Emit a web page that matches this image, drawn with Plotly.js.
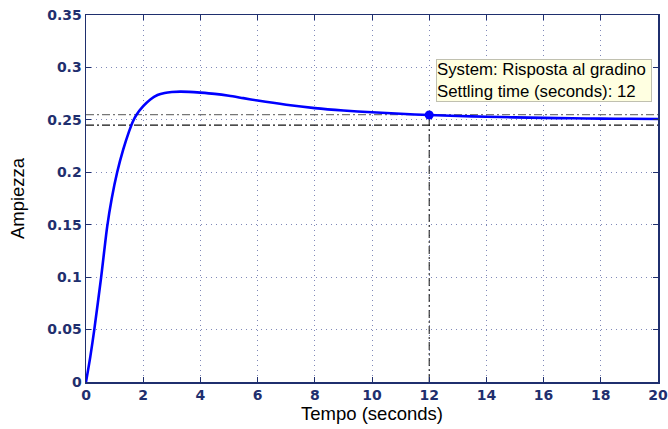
<!DOCTYPE html>
<html>
<head>
<meta charset="utf-8">
<script src="https://cdn.plot.ly/plotly-3.0.1.min.js"></script>
<style>
html,body{margin:0;padding:0;background:#fff;}
#chart{width:668px;height:429px;}
#chart .xtick text, #chart .ytick text { font-weight: 700 !important; }
</style>
</head>
<body>
<div id="chart"></div>
<script>
// Step response
const time = [0, 0.15, 0.29, 0.53, 0.74, 0.9, 1.09, 1.3, 1.5, 1.64, 1.75, 2.0, 2.25, 2.5, 2.75, 3.0, 3.3, 3.6, 4.0, 4.5, 5, 5.5, 6, 7, 8, 9, 10, 11, 12, 13, 14, 15, 16, 17, 18, 19, 20];
const amplitude = [0, 0.024, 0.05, 0.1, 0.148, 0.175, 0.2, 0.2215, 0.2385, 0.2485, 0.2542, 0.263, 0.2695, 0.2737, 0.2757, 0.2766, 0.2769, 0.2767, 0.2760, 0.2748, 0.2730, 0.2707, 0.2684, 0.2644, 0.2612, 0.2589, 0.2572, 0.2558, 0.2546, 0.2537, 0.2530, 0.2524, 0.2519, 0.2515, 0.2512, 0.2510, 0.2508];
const settleBounds = [0.255, 0.245];
const settleTime = 12;
const settleValue = 0.2546;
const timeRange = [0, 20];
const xTicks = [0, 2, 4, 6, 8, 10, 12, 14, 16, 18, 20];
const yTicks = [0, 0.05, 0.1, 0.15, 0.2, 0.25, 0.3, 0.35];
const yTickLabels = ['0', '0.05', '0.1', '0.15', '0.2', '0.25', '0.3', '0.35'];
const tipLines = ['System: Risposta al gradino', 'Settling time (seconds): 12'];

const navy = '#1f2f6e';
const fam = 'Liberation Sans, Arial, sans-serif';
const tickFam = 'DejaVu Sans, sans-serif';
const dashDot = '8px,3px,2px,3px';
const traces = [
  {x: timeRange, y: [settleBounds[0], settleBounds[0]], mode: 'lines', line: {color: '#777', width: 1.3, dash: dashDot}, hoverinfo: 'skip'},
  {x: timeRange, y: [settleBounds[1], settleBounds[1]], mode: 'lines', line: {color: '#111', width: 1.3, dash: dashDot}, hoverinfo: 'skip'},
  {x: [settleTime, settleTime], y: [0, settleValue], mode: 'lines', line: {color: '#111', width: 1, dash: dashDot}, hoverinfo: 'skip'},
  {x: time, y: amplitude, mode: 'lines', line: {color: '#0000ff', width: 2.6, shape: 'spline', smoothing: 0.7}},
  {x: [settleTime], y: [settleValue], mode: 'markers', marker: {color: '#0000ff', size: 9}}
];

const axisCommon = {
  showline: true, linecolor: navy, linewidth: 1.5, mirror: 'ticks',
  ticks: 'inside', ticklen: 5, tickcolor: navy, tickwidth: 1,
  showgrid: true, gridcolor: '#7f88b8', griddash: '1px,4px', gridwidth: 1,
  zeroline: false,
  tickfont: {family: tickFam, size: 14, color: navy, weight: 'bold'}
};

const layout = {
  width: 668, height: 429,
  margin: {l: 85.5, r: 10, t: 15, b: 47},
  paper_bgcolor: '#fff', plot_bgcolor: '#fff',
  showlegend: false,
  xaxis: Object.assign({}, axisCommon, {
    range: timeRange, tickvals: xTicks, ticktext: xTicks.map(String),
    title: {text: 'Tempo (seconds)', font: {family: fam, size: 18.5, color: '#000'}, standoff: 2}
  }),
  yaxis: Object.assign({}, axisCommon, {
    range: [0, 0.35], tickvals: yTicks, ticktext: yTickLabels,
    title: {text: 'Ampiezza', font: {family: fam, size: 18.5, color: '#000'}, standoff: 17}
  }),
  annotations: [{
    x: settleTime, y: settleValue, xref: 'x', yref: 'y',
    text: tipLines.join('<br>'), showarrow: false,
    xanchor: 'left', yanchor: 'bottom', xshift: 7, yshift: 13,
    align: 'left', width: 214,
    font: {family: fam, size: 16.8, color: '#000'},
    bgcolor: '#ffffe1', bordercolor: '#c0c0b0', borderwidth: 1, borderpad: 0
  }]
};

Plotly.newPlot('chart', traces, layout, {displayModeBar: false, staticPlot: true});
</script>
</body>
</html>
